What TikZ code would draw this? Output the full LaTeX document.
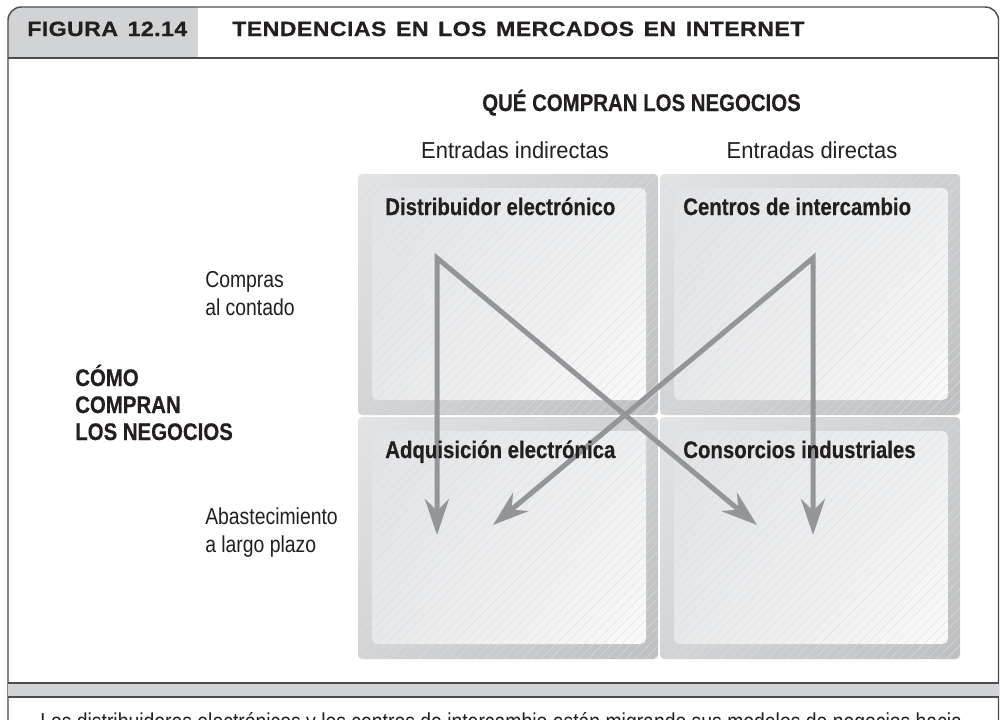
\documentclass[tikz,border=0pt]{standalone}
\usepackage{fontspec}
\setmainfont{Liberation Sans}
\newfontfamily\hdrfont[FakeStretch=1.12,LetterSpace=2,WordSpace=1.4,BoldFeatures={FakeBold=0.6}]{Liberation Sans}
\newfontfamily\lblfont[FakeStretch=0.85,BoldFeatures={FakeBold=0.4}]{Liberation Sans}
\newfontfamily\txtfont[FakeStretch=0.84]{Liberation Sans}
\newfontfamily\colfont[FakeStretch=0.95]{Liberation Sans}
\usetikzlibrary{arrows.meta,patterns.meta,shadings}
\definecolor{framec}{HTML}{4D4D4F}
\definecolor{bandc}{HTML}{D1D3D4}
\definecolor{arrc}{HTML}{939598}
\definecolor{txtc}{HTML}{231F20}
\definecolor{hatchc}{HTML}{DCDDDF}
\definecolor{outUL}{HTML}{E3E4E5}
\definecolor{outUR}{HTML}{CDCED0}
\definecolor{outLL}{HTML}{D3D4D6}
\definecolor{outLR}{HTML}{BEBFC1}
\definecolor{inUL}{HTML}{E2E3E5}
\definecolor{inUR}{HTML}{EEEFF0}
\definecolor{inLL}{HTML}{E7E8E9}
\definecolor{inLR}{HTML}{F9F9F9}
\newcommand\cellbox[4]{%
  \shade[rounded corners=3pt,upper left=outUL,upper right=outUR,lower left=outLL,lower right=outLR] (#1,-#2) rectangle (#3,-#4);
  \fill[rounded corners=3pt,pattern={Lines[angle=45,distance=5pt,line width=0.3pt]},pattern color=hatchc] (#1,-#2) rectangle (#3,-#4);
  \shade[rounded corners=4pt,upper left=inUL,upper right=inUR,lower left=inLL,lower right=inLR] (#1+14,-#2-14) rectangle (#3-12,-#4+15);
  \fill[rounded corners=4pt,pattern={Lines[angle=45,distance=5pt,line width=0.25pt]},pattern color=hatchc] (#1+14,-#2-14) rectangle (#3-12,-#4+15);
}
\begin{document}
\begin{tikzpicture}[x=0.75pt,y=0.75pt,
  hdr/.style={anchor=base west,inner sep=0,font=\hdrfont\bfseries\fontsize{15.5}{18}\selectfont,text=txtc},
  lbl/.style={anchor=base west,inner sep=0,font=\lblfont\bfseries\fontsize{18}{21}\selectfont,text=txtc},
  txt/.style={anchor=base west,inner sep=0,font=\txtfont\fontsize{17.3}{20}\selectfont,text=txtc},
  coltxt/.style={anchor=base,inner sep=0,font=\colfont\fontsize{17.3}{20}\selectfont,text=txtc},
  frameline/.style={draw=framec,line width=1.1pt},
  arr/.style={draw=arrc,line width=3.75pt,line join=miter,{Stealth[length=27pt,width=18pt,inset=9pt]}-{Stealth[length=27pt,width=18pt,inset=9pt]}},
]
\clip (0,0) rectangle (1000,-719);
\fill[white] (0,0) rectangle (1000,-719);
% header
\begin{scope}
  \clip[rounded corners=10] (8,-7) rectangle (998.5,-760);
  \fill[bandc] (8,-7) rectangle (198,-58);
\end{scope}
\draw[frameline,rounded corners=10] (8,-760) -- (8,-7) -- (998.5,-7) -- (998.5,-760);
\draw[frameline] (8,-58) -- (998.5,-58);
\node[hdr] (fig) at (27,-36) {FIGURA 12.14};
\node[hdr] (title) at (232,-36) {TENDENCIAS EN LOS MERCADOS EN INTERNET};
% bottom band
\fill[bandc] (8,-683) rectangle (998.5,-697);
\draw[frameline] (8,-683) -- (998.5,-683);
\draw[frameline] (8,-697) -- (998.5,-697);
\node[txt] (cap) at (40,-729) {Los distribuidores electrónicos y los centros de intercambio están migrando sus modelos de negocios hacia};
% cells
\cellbox{358}{174}{658}{415}
\cellbox{660}{174}{960}{415}
\cellbox{358}{417}{658}{659}
\cellbox{660}{417}{960}{659}
% arrows
\coordinate (apL) at (437,-258);
\coordinate (tLV) at (437,-535);
\coordinate (tLD) at (757,-525);
\coordinate (apR) at (813,-258);
\coordinate (tRV) at (813,-535);
\coordinate (tRD) at (493,-525);
\draw[arr] (tLV) -- (apL) -- (tLD);
\draw[arr] (tRV) -- (apR) -- (tRD);
% labels
\node[lbl] (que) at (482,-111) {QUÉ COMPRAN LOS NEGOCIOS};
\node[coltxt] (ei) at (515,-158) {Entradas indirectas};
\node[coltxt] (ed) at (812,-158) {Entradas directas};
\node[lbl] (c1) at (385,-215) {Distribuidor electrónico};
\node[lbl] (c2) at (683,-215) {Centros de intercambio};
\node[lbl] (c3) at (385,-458) {Adquisición electrónica};
\node[lbl] (c4) at (683,-458) {Consorcios industriales};
\node[txt] (r1a) at (205,-287) {Compras};
\node[txt] (r1b) at (205,-315) {al contado};
\node[lbl] (l1) at (75,-386) {CÓMO};
\node[lbl] (l2) at (75,-413) {COMPRAN};
\node[lbl] (l3) at (75,-440) {LOS NEGOCIOS};
\node[txt] (r2a) at (205,-524) {Abastecimiento};
\node[txt] (r2b) at (205,-552) {a largo plazo};
\end{tikzpicture}
\end{document}
